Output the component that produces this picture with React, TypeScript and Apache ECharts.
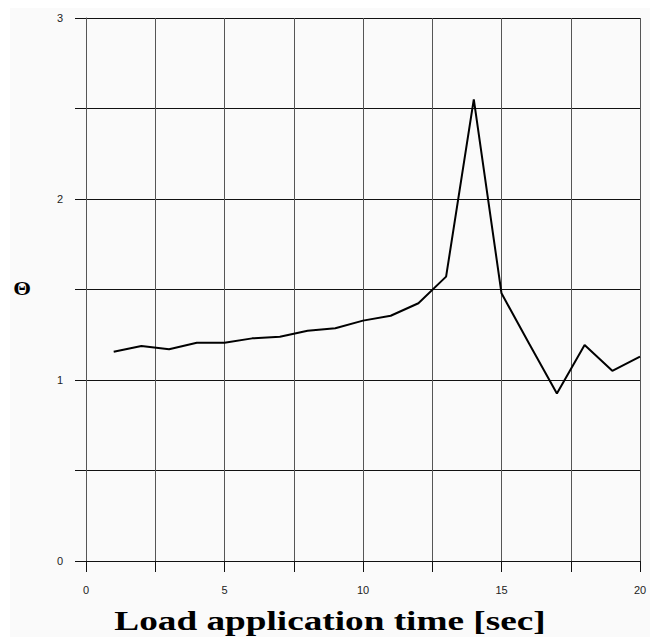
import React, { useEffect, useRef } from "react";
import * as echarts from "echarts";

const xValues = [1, 2, 3, 4, 5, 6, 7, 8, 9, 10, 11, 12, 13, 14, 15, 16, 17, 18, 19, 20];
const thetaValues = [1.156, 1.188, 1.17, 1.206, 1.206, 1.23, 1.239, 1.272, 1.286, 1.328, 1.355, 1.424, 1.571, 2.55, 1.479, 1.2, 0.926, 1.193, 1.051, 1.129];
const xAxisTitle = "Load application time [sec]";
const yAxisTitle = "Θ";

export default function App() {
  const ref = useRef<HTMLDivElement>(null);
  useEffect(() => {
    if (!ref.current) return;
    const chart = echarts.init(ref.current, null, { renderer: "svg" });
    const data = xValues.map((x, i) => [x, thetaValues[i]]);
    chart.setOption({
      animation: false,
      backgroundColor: "#ffffff",
      graphic: [
        { type: "rect", z: -10, shape: { x: 10, y: 8, width: 640, height: 629 }, style: { fill: "#fafafa" } },
        {
          type: "text", x: 330, y: 621, scaleX: 1.38,
          style: { text: xAxisTitle, font: "bold 27px 'Liberation Serif', 'Times New Roman', serif", fill: "#000", align: "center", verticalAlign: "middle" },
        },
        {
          type: "text", x: 22, y: 289, scaleX: 1.2,
          style: { text: yAxisTitle, font: "bold 19px 'Liberation Serif', serif", fill: "#000", align: "center", verticalAlign: "middle" },
        },
      ],
      grid: { left: 86, right: 17, top: 18, bottom: 76, containLabel: false },
      xAxis: {
        type: "value", min: 0, max: 20, interval: 2.5,
        axisLine: { show: true, lineStyle: { color: "#111", width: 1 } },
        axisTick: { show: true, length: 11, lineStyle: { color: "#111" } },
        axisLabel: {
          margin: 23, color: "#222", fontSize: 11, fontFamily: "'Liberation Sans', Arial, sans-serif",
          formatter: (v: number) => (v % 5 === 0 ? String(v) : ""),
        },
        splitLine: { show: true, lineStyle: { color: "#555", width: 1 } },
      },
      yAxis: {
        type: "value", min: 0, max: 3, interval: 0.5,
        axisLine: { show: true, lineStyle: { color: "#555", width: 1 } },
        axisTick: { show: true, length: 11, lineStyle: { color: "#111" } },
        axisLabel: {
          margin: 23, color: "#222", fontSize: 11, fontFamily: "'Liberation Sans', Arial, sans-serif",
          formatter: (v: number) => (v % 1 === 0 ? String(v) : ""),
        },
        splitLine: { show: true, lineStyle: { color: "#111", width: 1 } },
      },
      series: [
        {
          type: "line", data, showSymbol: false, symbol: "none",
          lineStyle: { color: "#000", width: 2 }, z: 5,
        },
      ],
    });
    return () => chart.dispose();
  }, []);
  return (
    <div style={{ position: "absolute", left: 0, top: 0, width: 657, height: 637, background: "#fff" }}>
      <div ref={ref} style={{ width: 657, height: 637 }} />
    </div>
  );
}
